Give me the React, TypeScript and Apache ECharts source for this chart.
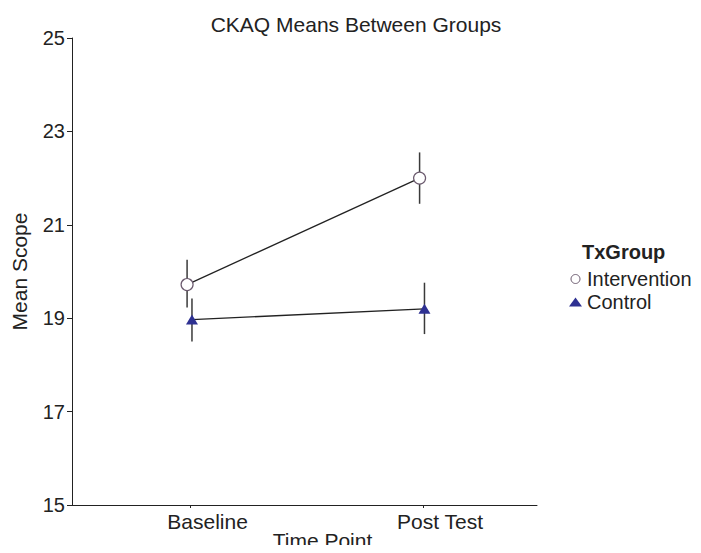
import React, { useEffect, useRef } from "react";
import * as echarts from "echarts";

const categories = ["Baseline", "Post Test"];
const interventionMeans = [19.72, 22.0];
const interventionLow = [19.23, 21.45];
const interventionHigh = [20.25, 22.55];
const controlMeans = [18.97, 19.2];
const controlLow = [18.5, 18.66];
const controlHigh = [19.42, 19.76];
const yMin = 15;
const yMax = 25;
const yInterval = 2;

const interventionOffset = -0.015;
const controlOffset = 0.006;

const FONT = "Liberation Sans, Arial, Helvetica, sans-serif";
const TEXT = "#222";

function errData(means: number[], lo: number[], hi: number[], off: number) {
  return means.map((_, i) => [i + off, lo[i], hi[i]]);
}

const errorRender = (params: any, api: any) => {
  const x = api.value(0);
  const p1 = api.coord([x, api.value(1)]);
  const p2 = api.coord([x, api.value(2)]);
  return {
    type: "line",
    shape: { x1: p1[0], y1: p1[1], x2: p2[0], y2: p2[1] },
    style: { stroke: "#3a3a3a", lineWidth: 1.5 },
  };
};

export default function App() {
  const ref = useRef<HTMLDivElement>(null);
  useEffect(() => {
    if (!ref.current) return;
    const chart = echarts.init(ref.current, null, { renderer: "svg" });
    const iPts = interventionMeans.map((v, i) => [i + interventionOffset, v]);
    const cPts = controlMeans.map((v, i) => [i + controlOffset, v]);
    chart.setOption({
      animation: false,
      backgroundColor: "#fff",
      textStyle: { fontFamily: FONT },
      title: {
        text: "CKAQ Means Between Groups",
        left: 351,
        top: 9,
        textAlign: "center",
        textStyle: { fontSize: 21, fontWeight: "normal", color: TEXT, fontFamily: FONT },
      },
      grid: { left: 72, top: 38, width: 465, height: 467, outerBoundsMode: "none", containLabel: false },
      xAxis: {
        type: "value",
        min: -0.51,
        max: 1.49,
        name: "Time Point",
        nameLocation: "middle",
        nameGap: 25,
        nameMoveOverlap: false,
        nameTextStyle: { fontSize: 21, color: TEXT, fontFamily: FONT, padding: [0, 0, 0, 36] },
        axisLine: { show: true, onZero: false, lineStyle: { color: "#222", width: 1 } },
        axisTick: { show: true, customValues: [0, 1], length: 3, lineStyle: { color: "#222" } },
        axisLabel: {
          customValues: [0, 1],
          formatter: (v: number) => categories[Math.round(v)] ?? "",
          fontSize: 21,
          color: TEXT,
          margin: 6,
          padding: [0, 0, 0, 34],
          fontFamily: FONT,
        },
        splitLine: { show: false },
      },
      yAxis: {
        type: "value",
        min: yMin,
        max: yMax,
        interval: yInterval,
        name: "Mean Scope",
        nameLocation: "middle",
        nameGap: 42,
        nameMoveOverlap: false,
        nameTextStyle: { fontSize: 21, color: TEXT, fontFamily: FONT },
        axisLine: { show: true, onZero: false, lineStyle: { color: "#222", width: 1 } },
        axisTick: { show: true, length: 5, lineStyle: { color: "#222" } },
        axisLabel: { fontSize: 20, color: TEXT, margin: 7, fontFamily: FONT },
        splitLine: { show: false },
      },
      legend: {
        orient: "vertical",
        left: 569,
        top: 269,
        padding: 0,
        itemWidth: 13,
        itemHeight: 9,
        itemGap: 3,
        textStyle: { fontSize: 20, lineHeight: 20, color: TEXT, fontFamily: FONT },
        data: [
          { name: "Intervention", icon: "circle", itemStyle: { color: "#fff", borderColor: "#6b5a6e", borderWidth: 1 } },
          { name: "Control", icon: "triangle", itemStyle: { color: "#2e3192" } },
        ],
      },
      graphic: [
        {
          type: "text",
          left: 582,
          top: 242,
          style: { text: "TxGroup", font: `bold 20px ${FONT}`, fill: TEXT },
        },
      ],
      series: [
        {
          type: "line",
          name: "Intervention line",
          data: iPts,
          showSymbol: false,
          lineStyle: { color: "#222", width: 1.3 },
          z: 2,
        },
        {
          type: "line",
          name: "Control line",
          data: cPts,
          showSymbol: false,
          lineStyle: { color: "#222", width: 1.3 },
          z: 2,
        },
        {
          type: "custom",
          name: "Intervention err",
          data: errData(interventionMeans, interventionLow, interventionHigh, interventionOffset),
          renderItem: errorRender,
          encode: { x: 0, y: [1, 2] },
          z: 3,
        },
        {
          type: "custom",
          name: "Control err",
          data: errData(controlMeans, controlLow, controlHigh, controlOffset),
          renderItem: errorRender,
          encode: { x: 0, y: [1, 2] },
          z: 3,
        },
        {
          type: "scatter",
          name: "Intervention",
          data: iPts,
          symbol: "circle",
          symbolSize: 12,
          itemStyle: { color: "#fff", borderColor: "#6b5a6e", borderWidth: 1.2, opacity: 1 },
          z: 5,
        },
        {
          type: "scatter",
          name: "Control",
          data: cPts,
          symbol: "triangle",
          symbolSize: [12, 10],
          itemStyle: { color: "#2e3192", opacity: 1 },
          z: 5,
        },
      ],
    });
    return () => chart.dispose();
  }, []);
  return <div ref={ref} style={{ width: 701, height: 553, margin: -8 }} />;
}
